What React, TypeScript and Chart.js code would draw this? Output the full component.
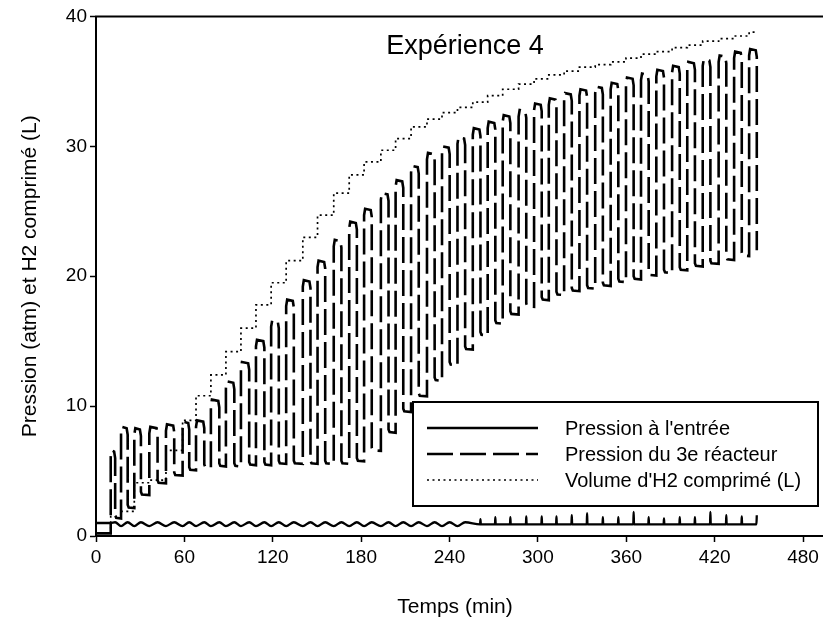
import React, { useEffect, useRef } from 'react';
import { Chart, registerables } from 'chart.js';

Chart.register(...registerables);

const FONT = '"Liberation Sans", Arial, Helvetica, sans-serif';

const chartTitle = 'Expérience 4';
const xAxisTitle = 'Temps (min)';
const yAxisTitle = 'Pression (atm) et H2 comprimé (L)';
const seriesLabels = ["Pression à l'entrée", 'Pression du 3e réacteur', "Volume d'H2 comprimé (L)"];

const xTickValues = [0, 60, 120, 180, 240, 300, 360, 420, 480];
const yTickValues = [0, 10, 20, 30, 40];
const xRange = [0, 500];
const yRange = [0, 40];

// compression cycles (minutes): time of pressure rise and of pressure drop
const cycleRise = [10, 17, 26, 36.2, 47.5, 58.8, 67.9, 78, 88.2, 98.4,
  108.6, 118.9, 129.1, 140.4, 150.4, 161.4, 171.9, 182, 193.4, 203.4,
  213.9, 224.7, 234.9, 245.4, 255.8, 265.9, 276.1, 286.9, 297.4, 307.4,
  317.8, 328.2, 338.9, 349.4, 359.8, 370, 380.4, 391.1, 401.4, 411.9,
  422.7, 433.2, 443.4];
const cycleDrop = [13, 21.5, 30.5, 41.8, 53.1, 63.3, 73.5, 83.7, 93.9, 104,
  114.3, 124.1, 134.3, 145.6, 155.6, 166.6, 177.1, 187.2, 198.6, 208.6,
  219.1, 229.9, 240.1, 250.6, 261, 271.1, 281.3, 292.1, 302.6, 312.6,
  323, 333.4, 344.1, 354.6, 365, 375.2, 385.6, 396.3, 406.6, 417.1,
  427.9, 438.4, 448.6];

// Pression du 3e réacteur (atm): peak and trough of each cycle
const reactorInitial = 0.2;
const reactorPeak = [6.6, 8.4, 8.3, 8.4, 8.6, 8.8, 8.9, 10.5, 11.9, 13.4,
  15.1, 16.6, 18.2, 19.7, 21.2, 22.8, 24.2, 25.2, 26.4, 27.4,
  28.5, 29.5, 30.0, 30.7, 31.4, 31.9, 32.4, 32.8, 33.3, 33.7,
  34.1, 34.4, 34.6, 34.9, 35.3, 35.6, 35.9, 36.2, 36.5, 36.7,
  37.0, 37.3, 37.5];
const reactorTrough = [1.6, 2.4, 3.4, 4.3, 4.9, 5.3, 5.5, 5.6, 5.6, 5.7,
  5.7, 5.8, 5.8, 5.8, 5.8, 5.8, 6.0, 6.8, 8.2, 9.8,
  11.0, 12.2, 13.4, 14.6, 15.7, 16.6, 17.3, 17.9, 18.4, 18.8,
  19.1, 19.3, 19.5, 19.8, 20.0, 20.3, 20.5, 20.7, 21.0, 21.2,
  21.5, 21.8, 22.0];

// Volume d'H2 comprimé (L) after each cycle
const volumeInitial = 0;
const volumeEndTime = 448;
const volumeAfterCycle = [1.5, 1.9, 4.1, 4.3, 6.6, 8.9, 10.8, 12.4, 14.2, 16.0,
  17.8, 19.5, 21.2, 23.0, 24.7, 26.4, 27.8, 28.8, 29.7, 30.6,
  31.5, 32.1, 32.6, 33.0, 33.4, 33.9, 34.4, 34.8, 35.2, 35.5,
  35.8, 36.1, 36.3, 36.5, 36.8, 37.1, 37.3, 37.6, 37.8, 38.1,
  38.3, 38.5, 38.8];

// Pression à l'entrée (atm): low / high level within each cycle
const inletInitial = 1.0;
const inletSpikeFromCycle = 24;
const inletLow = [0.76, 0.76, 0.76, 0.76, 0.76, 0.76, 0.76, 0.76, 0.76, 0.76,
  0.76, 0.76, 0.76, 0.76, 0.76, 0.76, 0.76, 0.76, 0.76, 0.76,
  0.76, 0.76, 0.76, 0.76, 0.9, 0.9, 0.9, 0.9, 0.9, 0.9,
  0.9, 0.9, 0.9, 0.9, 0.9, 0.9, 0.9, 0.9, 0.9, 0.9,
  0.9, 0.9, 0.9];
const inletHigh = [1.06, 1.06, 1.06, 1.06, 1.06, 1.06, 1.06, 1.06, 1.06, 1.06,
  1.06, 1.06, 1.06, 1.06, 1.06, 1.06, 1.06, 1.06, 1.06, 1.06,
  1.06, 1.06, 1.06, 1.06, 1.3, 1.45, 1.45, 1.5, 1.5, 1.5,
  1.6, 1.75, 1.45, 1.45, 1.85, 1.45, 1.35, 1.45, 1.45, 1.85,
  1.6, 1.5, 1.6];

type P = { x: number; y: number };

function buildReactor(): P[] {
  const pts: P[] = [{ x: 0, y: reactorInitial }];
  let prev = reactorInitial;
  cycleRise.forEach((r, k) => {
    const d = cycleDrop[k];
    const H = reactorPeak[k];
    const L = reactorTrough[k];
    pts.push({ x: r, y: prev });
    pts.push({ x: r, y: H - 0.5 });
    pts.push({ x: r + 0.7, y: H });
    pts.push({ x: d - 0.7, y: H - 0.1 });
    pts.push({ x: d, y: H - 0.6 });
    pts.push({ x: d, y: L });
    if (k < cycleRise.length - 1) {
      pts.push({ x: d + 0.7, y: L - 0.2 });
      prev = L - 0.25;
    }
  });
  return pts;
}

function buildInlet(): P[] {
  const pts: P[] = [{ x: 0, y: inletInitial }, { x: cycleRise[0], y: inletInitial }];
  cycleRise.forEach((r, k) => {
    const d = cycleDrop[k];
    if (k < inletSpikeFromCycle) {
      if (k > 0) pts.push({ x: r, y: inletLow[k] });
      pts.push({ x: d, y: inletHigh[k] });
    } else {
      pts.push({ x: d - 0.25, y: inletLow[k] });
      pts.push({ x: d, y: inletHigh[k] });
      if (k < cycleRise.length - 1) pts.push({ x: d + 0.25, y: inletLow[k] });
    }
  });
  return pts;
}

function buildVolume(): P[] {
  const pts: P[] = [{ x: 0, y: volumeInitial }];
  cycleRise.forEach((r, k) => pts.push({ x: r, y: volumeAfterCycle[k] }));
  pts.push({ x: volumeEndTime, y: volumeAfterCycle[volumeAfterCycle.length - 1] });
  return pts;
}

const decorPlugin = {
  id: 'decor',
  afterDraw(chart: any, _args: any, opts: any) {
    const { ctx, chartArea } = chart;
    ctx.save();
    // frame (top / right)
    ctx.strokeStyle = '#000';
    ctx.lineWidth = 2;
    ctx.setLineDash([]);
    ctx.beginPath();
    ctx.moveTo(chartArea.left - 1, chartArea.top);
    ctx.lineTo(chartArea.right, chartArea.top);
    ctx.lineTo(chartArea.right, chartArea.bottom);
    ctx.stroke();

    ctx.fillStyle = '#000';
    ctx.textAlign = 'center';
    ctx.textBaseline = 'middle';
    // title inside plot
    ctx.font = `${opts.titleSize}px ${FONT}`;
    ctx.fillText(opts.title, opts.titleX, opts.titleY);
    // x axis title
    ctx.font = `${opts.xTitleSize}px ${FONT}`;
    ctx.fillText(opts.xTitle, opts.xTitleX, opts.xTitleY);

    // legend box
    const b = opts.box;
    ctx.fillStyle = '#fff';
    ctx.fillRect(b.left, b.top, b.right - b.left, b.bottom - b.top);
    ctx.strokeStyle = '#000';
    ctx.lineWidth = 2;
    ctx.strokeRect(b.left, b.top, b.right - b.left, b.bottom - b.top);

    ctx.font = `${opts.legendSize}px ${FONT}`;
    ctx.textAlign = 'left';
    ctx.textBaseline = 'middle';
    chart.data.datasets.forEach((ds: any, i: number) => {
      const y = opts.rowY[i];
      ctx.strokeStyle = ds.borderColor;
      ctx.lineWidth = ds.borderWidth;
      ctx.setLineDash(ds.borderDash || []);
      ctx.beginPath();
      ctx.moveTo(opts.sampleX0, y);
      ctx.lineTo(opts.sampleX1, y);
      ctx.stroke();
      ctx.setLineDash([]);
      ctx.fillStyle = '#000';
      ctx.fillText(ds.label, opts.textX, y + 1);
    });
    ctx.restore();
  },
};

export default function App() {
  const ref = useRef<HTMLCanvasElement | null>(null);

  useEffect(() => {
    if (!ref.current) return;
    const chart = new Chart(ref.current, {
      type: 'line',
      data: {
        datasets: [
          {
            label: seriesLabels[0],
            data: buildInlet(),
            borderColor: '#000',
            borderWidth: 2.3,
            borderDash: [],
            pointRadius: 0,
            cubicInterpolationMode: 'monotone',
            fill: false,
          },
          {
            label: seriesLabels[1],
            data: buildReactor(),
            borderColor: '#000',
            borderWidth: 2.6,
            borderDash: [26, 7],
            pointRadius: 0,
            tension: 0,
            fill: false,
          },
          {
            label: seriesLabels[2],
            data: buildVolume(),
            borderColor: '#000',
            borderWidth: 1.7,
            borderDash: [2, 3.5],
            pointRadius: 0,
            stepped: 'before',
            fill: false,
          },
        ],
      },
      options: {
        responsive: false,
        animation: false,
        events: [],
        layout: { padding: { top: 16.5, left: 0, right: 7.5, bottom: 0 } },
        plugins: {
          legend: { display: false },
          tooltip: { enabled: false },
          title: { display: false },
          decor: {
            title: chartTitle,
            titleSize: 27,
            titleX: 465,
            titleY: 47,
            xTitle: xAxisTitle,
            xTitleSize: 21,
            xTitleX: 455,
            xTitleY: 607,
            box: { left: 413, top: 402, right: 818, bottom: 506 },
            sampleX0: 427,
            sampleX1: 538,
            textX: 565,
            rowY: [428, 454, 480],
            legendSize: 20,
          },
        } as any,
        scales: {
          x: {
            type: 'linear',
            min: xRange[0],
            max: xRange[1],
            afterBuildTicks: (s: any) => {
              s.ticks = xTickValues.map((value) => ({ value }));
            },
            afterFit: (s: any) => {
              s.height = 90;
            },
            grid: { display: true, drawOnChartArea: false, drawTicks: true, tickLength: 6, tickWidth: 1.5, tickColor: '#000' },
            border: { display: true, color: '#000', width: 2 },
            ticks: { color: '#000', font: { family: FONT, size: 19 }, padding: 4, maxRotation: 0, autoSkip: false },
            title: { display: false },
          },
          y: {
            type: 'linear',
            min: yRange[0],
            max: yRange[1],
            afterBuildTicks: (s: any) => {
              s.ticks = yTickValues.map((value) => ({ value }));
            },
            afterFit: (s: any) => {
              s.width = 96;
            },
            grid: { display: true, drawOnChartArea: false, drawTicks: true, tickLength: 6, tickWidth: 1.5, tickColor: '#000' },
            border: { display: true, color: '#000', width: 2 },
            ticks: { color: '#000', font: { family: FONT, size: 19 }, padding: 3 },
            title: { display: true, text: yAxisTitle, color: '#000', font: { family: FONT, size: 21 }, padding: { top: 17.4, bottom: 0 } },
          },
        },
      },
      plugins: [decorPlugin],
    } as any);
    return () => chart.destroy();
  }, []);

  return (
    <div style={{ position: 'fixed', left: 0, top: 0, width: 823, height: 626, overflow: 'hidden', background: '#fff' }}>
      <canvas ref={ref} width={840} height={626} style={{ display: 'block' }} />
    </div>
  );
}
